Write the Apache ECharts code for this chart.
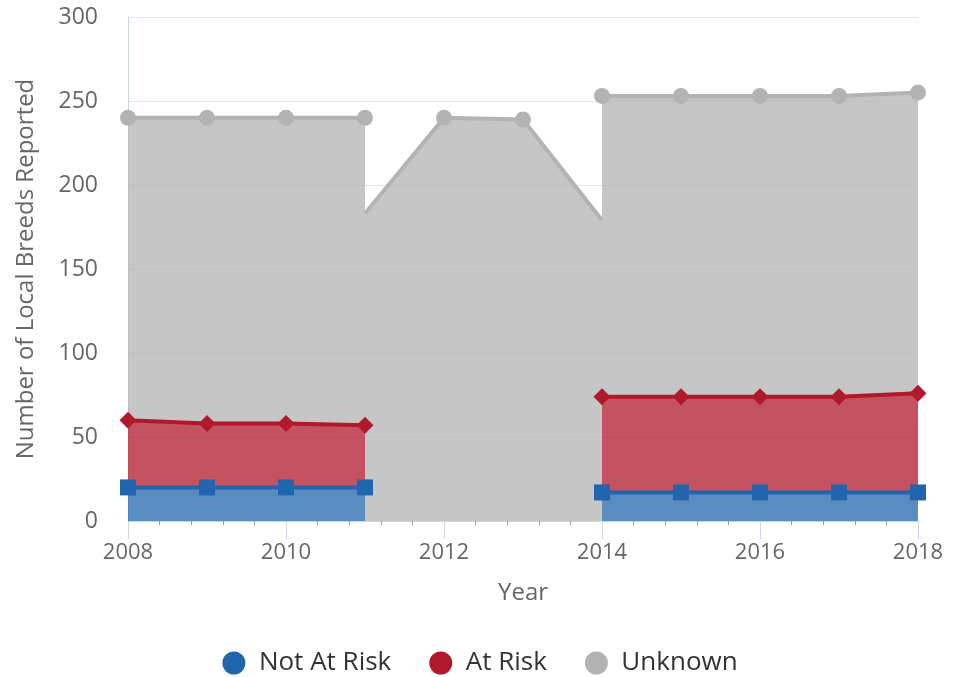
<!DOCTYPE html>
<html>
<head>
<meta charset="utf-8">
<script src="https://cdn.jsdelivr.net/npm/echarts@6/dist/echarts.min.js"></script>
<style>
html, body { margin: 0; padding: 0; background: #fff; }
#main { width: 960px; height: 677px; }
</style>
</head>
<body>
<div id="main"></div>
<script>
// values per year (not cumulative), null = not reported
const years = [2008, 2009, 2010, 2011, 2012, 2013, 2014, 2015, 2016, 2017, 2018];
const notAtRisk = [20, 20, 20, 20, null, null, 17, 17, 17, 17, 17];
const atRisk = [40, 38, 38, 37, null, null, 57, 57, 57, 57, 59];
const unknown = [180, 182, 182, 183, 240, 239, 179, 179, 179, 179, 179];

const blue = '#2166ac', red = '#b2182b', gray = '#b3b3b3';
const font = 'Open Sans';

const has = i => notAtRisk[i] != null && atRisk[i] != null;
const val = v => (v == null ? '-' : v);

// unknown stacked on top of the other two where they exist
const unknownStacked = years.map((y, i) => (has(i) ? unknown[i] : '-'));
// unknown alone where the others are missing, starting from the cliff points
const unknownGap = years.map((y, i) => {
    if (!has(i)) return unknown[i];
    const edge = (i > 0 && !has(i - 1)) || (i < years.length - 1 && !has(i + 1));
    return edge ? { value: unknown[i], symbol: 'none' } : '-';
});

let chart = echarts.init(document.getElementById('main'));
chart.setOption({
    animation: false,
    textStyle: { fontFamily: font },
    grid: { left: 128, right: 42, top: 17, bottom: 156 },
    legend: {
        data: ['Not At Risk', 'At Risk', 'Unknown'],
        icon: 'circle',
        top: 645,
        left: 'center',
        itemWidth: 40,
        itemHeight: 23,
        itemGap: 38,
        textStyle: { fontSize: 26, color: '#333', fontFamily: font }
    },
    xAxis: [
        {
            type: 'category',
            data: years,
            boundaryGap: false,
            show: false
        },
        {
            type: 'value',
            min: 2008,
            max: 2018,
            interval: 2,
            position: 'bottom',
            name: 'Year',
            nameLocation: 'middle',
            nameGap: 60,
            nameTextStyle: { fontSize: 24, color: '#666', fontFamily: font },
            axisLine: { show: true, lineStyle: { color: '#ccd6eb', width: 1 } },
            axisTick: { show: true, length: 18, lineStyle: { color: '#ccd6eb' } },
            minorTick: { show: true, splitNumber: 5, length: 4, lineStyle: { color: '#999' } },
            axisLabel: { fontSize: 22, color: '#666', margin: 21, formatter: v => String(v) },
            splitLine: { show: false }
        }
    ],
    yAxis: {
        type: 'value',
        min: 0,
        max: 300,
        interval: 50,
        name: 'Number of Local Breeds Reported',
        nameLocation: 'middle',
        nameGap: 90,
        nameTextStyle: { fontSize: 24, color: '#666', fontFamily: font },
        axisLine: { show: true, lineStyle: { color: '#ccd6eb', width: 1 } },
        axisTick: { show: false },
        axisLabel: { fontSize: 23, color: '#666', margin: 30 },
        splitLine: { lineStyle: { color: '#e6e6e6', width: 1 } }
    },
    series: [
        {
            name: 'Not At Risk',
            type: 'line',
            stack: 'total',
            data: notAtRisk.map(val),
            symbol: 'rect',
            symbolSize: 16,
            itemStyle: { color: blue },
            lineStyle: { color: blue, width: 4 },
            areaStyle: { color: blue, opacity: 0.75 }
        },
        {
            name: 'At Risk',
            type: 'line',
            stack: 'total',
            data: atRisk.map(val),
            symbol: 'diamond',
            symbolSize: 17,
            itemStyle: { color: red },
            lineStyle: { color: red, width: 4 },
            areaStyle: { color: red, opacity: 0.75 }
        },
        {
            name: 'Unknown',
            type: 'line',
            stack: 'total',
            data: unknownStacked,
            symbol: 'circle',
            symbolSize: 16,
            itemStyle: { color: gray },
            lineStyle: { color: gray, width: 4 },
            areaStyle: { color: gray, opacity: 0.75 }
        },
        {
            name: 'Unknown',
            type: 'line',
            data: unknownGap,
            symbol: 'circle',
            symbolSize: 16,
            itemStyle: { color: gray },
            lineStyle: { color: gray, width: 4 },
            areaStyle: { color: gray, opacity: 0.75 }
        }
    ]
});
</script>
</body>
</html>
